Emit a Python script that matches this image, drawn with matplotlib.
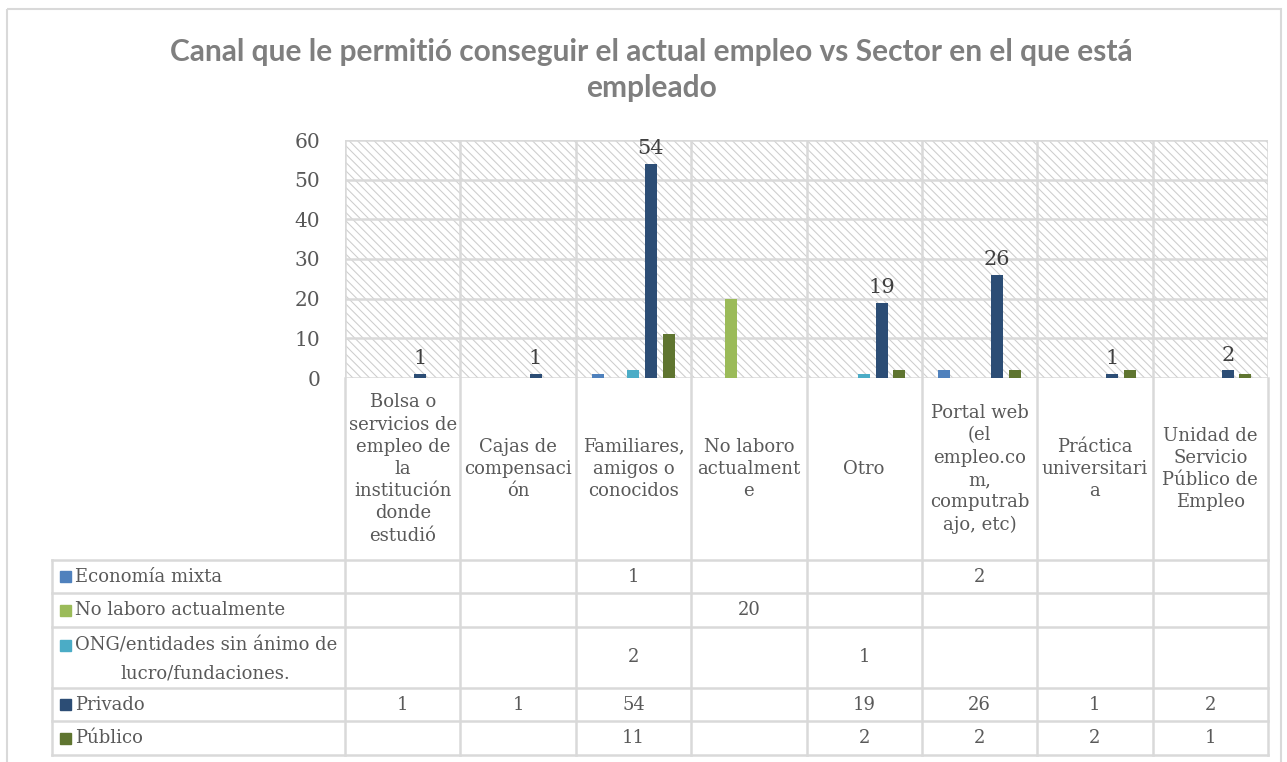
import matplotlib
matplotlib.use("Agg")
import matplotlib.pyplot as plt
from matplotlib.patches import Rectangle
import numpy as np

categorias = [
    "Bolsa o\nservicios de\nempleo de\nla\ninstitución\ndonde\nestudió",
    "Cajas de\ncompensaci\nón",
    "Familiares,\namigos o\nconocidos",
    "No laboro\nactualment\ne",
    "Otro",
    "Portal web\n(el\nempleo.co\nm,\ncomputrab\najo, etc)",
    "Práctica\nuniversitari\na",
    "Unidad de\nServicio\nPúblico de\nEmpleo",
]
series = ["Economía mixta", "No laboro actualmente",
          "ONG/entidades sin ánimo de\nlucro/fundaciones.", "Privado", "Público"]
economia_mixta = [0, 0, 1, 0, 0, 2, 0, 0]
no_laboro = [0, 0, 0, 20, 0, 0, 0, 0]
ong = [0, 0, 2, 0, 1, 0, 0, 0]
privado = [1, 1, 54, 0, 19, 26, 1, 2]
publico = [0, 0, 11, 0, 2, 2, 2, 1]
valores = [economia_mixta, no_laboro, ong, privado, publico]
colores = ["#4F81BD", "#9BBB59", "#4BACC6", "#2C4D75", "#5F7530"]

W, H = 1287, 762
plt.rcParams["hatch.linewidth"] = 0.75
plt.rcParams["hatch.color"] = "#CDCDCD"
fig = plt.figure(figsize=(W / 100, H / 100), dpi=100)

# capa en pixeles para marco y tabla
ov = fig.add_axes([0, 0, 1, 1])
ov.set_xlim(0, W)
ov.set_ylim(H, 0)
ov.axis("off")

gris = "#D9D9D9"
texto = "#595959"
serif = "DejaVu Serif"
fs = 13

ov.add_patch(Rectangle((7, 9), 1274, 770, fill=False, ec=gris, lw=1.5))

ov.text(651, 52, "Canal que le permitió conseguir el actual empleo vs Sector en el que está",
        ha="center", va="center", fontsize=21.5, fontweight="bold", color="#7F7F7F", family="Lato")
ov.text(651, 88, "empleado", ha="center", va="center", fontsize=21.5,
        fontweight="bold", color="#7F7F7F", family="Lato")

# area del grafico
x0, x1, yt, yb = 345, 1268, 140, 378
ax = fig.add_axes([x0 / W, 1 - yb / H, (x1 - x0) / W, (yb - yt) / H])
ax.set_xlim(-0.5, len(categorias) - 0.5)
ax.set_ylim(0, 60)
ax.add_patch(Rectangle((0, 0), 1, 1, transform=ax.transAxes, fc="white",
                       ec="#CDCDCD", hatch="\\\\\\\\", lw=0, zorder=0))
for s in ax.spines.values():
    s.set_visible(False)
ax.set_yticks(range(0, 61, 10))
ax.set_xticks([])
ax.tick_params(axis="y", length=0, pad=18, labelsize=14.5, labelcolor=texto)
for lab in ax.get_yticklabels():
    lab.set_family(serif)
for yv in range(0, 61, 10):
    ax.axhline(yv, color=gris, lw=1.8, zorder=1)
for xv in np.arange(-0.5, len(categorias), 1):
    ax.axvline(xv, color=gris, lw=1.8, zorder=1)

x = np.arange(len(categorias))
paso, ancho = 0.152, 0.104
for j, (vals, col) in enumerate(zip(valores, colores)):
    barras = ax.bar(x + (j - 2) * paso, vals, ancho, color=col, zorder=3)
    if j == 3:
        ax.bar_label(barras, labels=[str(v) if v else "" for v in vals], padding=4,
                     fontsize=15, color="#404040", family=serif)

# tabla de datos
colw = (x1 - x0) / len(categorias)
filas = [560, 593, 627, 688, 721, 755]
for xv in np.arange(len(categorias) + 1) * colw + x0:
    ov.plot([xv, xv], [yb, filas[-1]], color=gris, lw=1.8)
ov.plot([52, 52], [filas[0], filas[-1]], color=gris, lw=1.8)
for yv in filas:
    ov.plot([52, x1], [yv, yv], color=gris, lw=1.8)

for i, cat in enumerate(categorias):
    ov.text(x0 + (i + 0.5) * colw, 469, cat, ha="center", va="center", fontsize=fs,
            color=texto, family=serif, linespacing=1.3)

for j, (nombre, vals, col) in enumerate(zip(series, valores, colores)):
    yc = (filas[j] + filas[j + 1]) / 2
    lineas = nombre.split("\n")
    yk = yc if len(lineas) == 1 else filas[j] + 18
    ov.add_patch(Rectangle((60, yk - 5.5), 11, 11, color=col))
    ov.text(75, yk, lineas[0], ha="left", va="center", fontsize=fs, color=texto, family=serif)
    if len(lineas) > 1:
        ov.text(205, yk + 28, lineas[1], ha="center", va="center", fontsize=fs,
                color=texto, family=serif)
    for i, v in enumerate(vals):
        if v:
            ov.text(x0 + (i + 0.5) * colw, yc, str(v), ha="center", va="center",
                    fontsize=fs, color=texto, family=serif)

fig.savefig("out.png", dpi=100)
